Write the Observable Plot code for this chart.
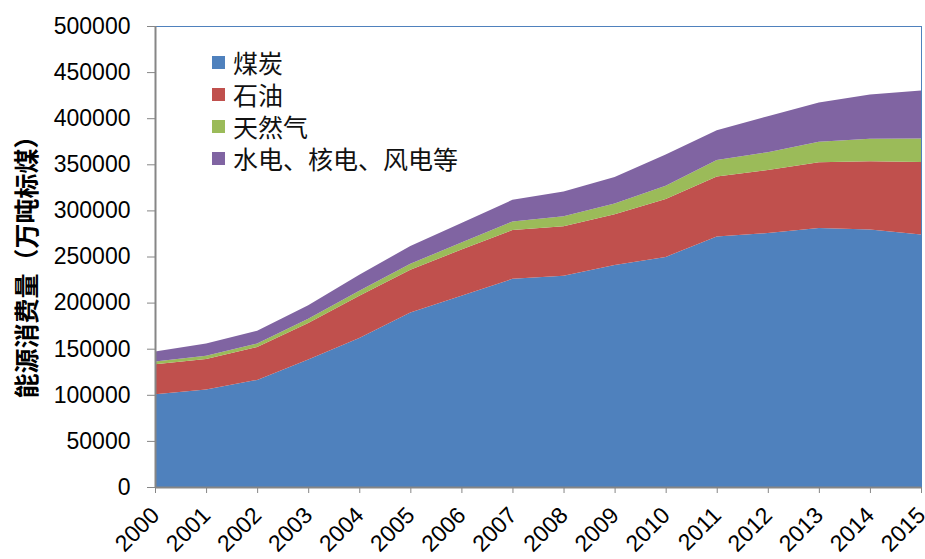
<!DOCTYPE html>
<html><head><meta charset="utf-8">
<script src="https://cdn.jsdelivr.net/npm/d3@7"></script>
<script src="https://cdn.jsdelivr.net/npm/@observablehq/plot@0.6"></script>
<style>
body{margin:0;background:#fff}
#wrap{position:relative;width:925px;height:559px;overflow:hidden}
#legend{position:absolute;left:212px;top:46px;font-family:"Noto Sans CJK SC";font-size:25px;color:#111}
#legend .row{position:absolute;left:0;display:flex;align-items:center;height:32px;white-space:nowrap}
#legend .sw{width:13px;height:13px;margin-right:8px;flex:none}
#legend .lab{line-height:1}
</style>
</head><body><div id="wrap"></div>
<script>
const years = [2000,2001,2002,2003,2004,2005,2006,2007,2008,2009,2010,2011,2012,2013,2014,2015];
const seriesNames = ["煤炭","石油","天然气","水电、核电、风电等"];
const coal  = [100670,105773,116160,138352,161657,189231,207402,225795,229237,240666,249568,271704,275465,281003,279329,273910];
const oil   = [32332,32976,35611,39614,45826,46524,50132,52945,53542,55125,62753,65023,68363,71292,74090,78690];
const gas   = [3233,3733,3900,4533,5296,6273,7735,9343,10901,11764,14426,17804,19303,22096,24271,25370];
const other = [10728,13066,13905,14584,17501,19341,21198,23358,26931,28571,33901,32512,39007,42525,48116,52030];
const colors = ["#4F81BD","#C0504D","#9BBB59","#8064A2"];
const yTicks = [0,50000,100000,150000,200000,250000,300000,350000,400000,450000,500000];
const yLabel = "能源消费量（万吨标煤）";

const seriesValues = [coal, oil, gas, other];
const data = years.flatMap((yr, i) => seriesNames.map((s, k) => ({year: yr, series: s, value: seriesValues[k][i]})));

const chart = Plot.plot({
  width: 925, height: 559,
  marginLeft: 155, marginRight: 4, marginTop: 26, marginBottom: 72,
  style: {fontFamily: "Liberation Sans", fontSize: "23px", background: "#fff", color: "#000"},
  x: {type: "linear", domain: [years[0], years[years.length-1]]},
  y: {domain: [0, 500000]},
  color: {domain: seriesNames, range: colors},
  marks: [
    Plot.areaY(data, {x: "year", y: "value", fill: "series", z: "series"}),
    Plot.ruleY([yTicks[yTicks.length-1]], {stroke: "#4F81BD", strokeWidth: 1}),
    Plot.ruleX([years[years.length-1]], {stroke: "#4F81BD", strokeWidth: 1}),
    Plot.ruleX([years[0]], {stroke: "#868686", strokeWidth: 2}),
    Plot.ruleY([0], {stroke: "#868686", strokeWidth: 2}),
    Plot.axisY(yTicks, {tickSize: 8, tickPadding: 17, stroke: "#868686", fill: "#000", tickFormat: d => String(d), label: null}),
    Plot.axisX(years, {tickSize: 6, tickPadding: 18, tickRotate: -45, textAnchor: "end", stroke: "#868686", fill: "#000", tickFormat: d => String(d), label: null}),
    Plot.text([yLabel], {frameAnchor: "left", textAnchor: "middle", rotate: -90, dx: -128, dy: 4, fontSize: 25, fontWeight: "bold", fontFamily: "Noto Sans CJK SC", fill: "#000"})
  ]
});
const wrap = document.getElementById("wrap");
wrap.appendChild(chart);
const legend = document.createElement("div");
legend.id = "legend";
seriesNames.forEach((s, k) => {
  const row = document.createElement("div"); row.className = "row";
  row.style.top = (k * 32) + "px";
  const sw = document.createElement("span"); sw.className = "sw"; sw.style.background = colors[k];
  const t = document.createElement("span"); t.className = "lab"; t.textContent = s;
  row.appendChild(sw); row.appendChild(t); legend.appendChild(row);
});
wrap.appendChild(legend);
</script>
</body></html>
